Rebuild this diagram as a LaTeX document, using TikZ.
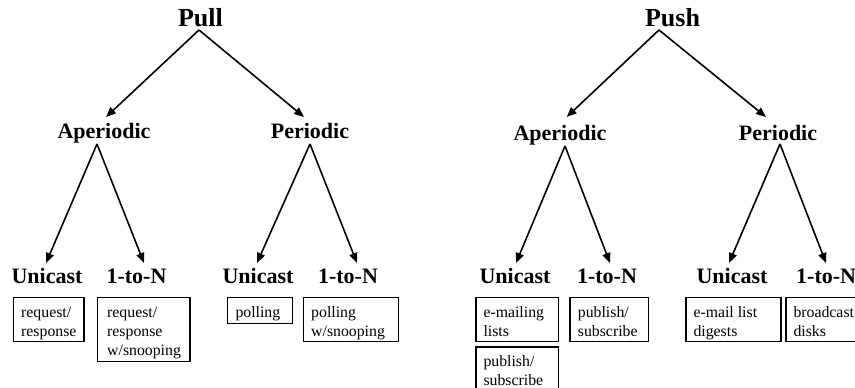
\documentclass[tikz,border=0pt]{standalone}
\usepackage{fontspec}
\setmainfont{Liberation Serif}
\usetikzlibrary{arrows.meta,calc}

\tikzset{
  x=1pt, y=1pt,
  top/.style={font=\fontsize{26}{30}\selectfont\bfseries, inner sep=0pt, anchor=base},
  mid/.style={font=\fontsize{22}{26}\selectfont\bfseries, inner sep=0pt, anchor=base},
  low/.style={font=\fontsize{22}{26}\selectfont\bfseries, inner sep=0pt, anchor=base},
  arr/.style={line width=1.6pt, -{Triangle[length=10pt,width=8pt]}},
  leafbox/.style={draw, line width=1.6pt, inner sep=0pt, anchor=north west},
  leaftext/.style={font=\fontsize{15.8}{19}\selectfont, inner sep=0pt, align=left, anchor=north west},
}

\begin{document}
\begin{tikzpicture}
\useasboundingbox (0,0) rectangle (855,-388);
\clip (0,0) rectangle (855,-388);

% ---------- Pull tree ----------
\node[top] (pull) at (200.5,-27) {Pull};
\node[mid] (apL) at (104,-138) {Aperiodic};
\node[mid] (perL) at (310,-138) {Periodic};
\node[low] (uL1) at (47,-283) {Unicast};
\node[low] (nL1) at (136.5,-283) {1-to-N};
\node[low] (uL2) at (258,-283) {Unicast};
\node[low] (nL2) at (348,-283) {1-to-N};

\draw[arr] ([shift={(-1.5,-3)}]pull.base) -- ([shift={(2,21)}]apL.base);
\draw[arr] ([shift={(-1.5,-3)}]pull.base) -- ([shift={(-6,21)}]perL.base);
\draw[arr] ([shift={(-7,-6)}]apL.base) -- ([shift={(-1,20)}]uL1.base);
\draw[arr] ([shift={(-7,-6)}]apL.base) -- ([shift={(7.5,20)}]nL1.base);
\draw[arr] ([shift={(0,-6)}]perL.base) -- ([shift={(-1,20)}]uL2.base);
\draw[arr] ([shift={(0,-6)}]perL.base) -- ([shift={(9,20)}]nL2.base);

% leaf boxes, Pull side
\node[leafbox, minimum width=70.6pt, minimum height=44pt] (b1) at (12.7,-296.7) {};
\node[leaftext] (t1) at (21,-306.7) {request/\\response};
\node[leafbox, minimum width=92.6pt, minimum height=64pt] (b2) at (96.7,-296.7) {};
\node[leaftext] (t2) at (107,-306.7) {request/\\response\\w/snooping};
\node[leafbox, minimum width=65pt, minimum height=26pt] (b3) at (226.7,-296.7) {};
\node[leaftext] (t3) at (235.3,-306.7) {polling};
\node[leafbox, minimum width=95pt, minimum height=44pt] (b4) at (302.7,-296.7) {};
\node[leaftext] (t4) at (311,-306.7) {polling\\w/snooping};

% ---------- Push tree ----------
\node[top] (push) at (672.5,-27) {Push};
\node[mid] (apR) at (560,-140) {Aperiodic};
\node[mid] (perR) at (778,-140) {Periodic};
\node[low] (uR1) at (515,-283) {Unicast};
\node[low] (nR1) at (607,-283) {1-to-N};
\node[low] (uR2) at (732,-283) {Unicast};
\node[low, anchor=base west] (nR2) at (796,-283) {1-to-N};

\draw[arr] ([shift={(-13.5,-3)}]push.base) -- ([shift={(6.7,23)}]apR.base);
\draw[arr] ([shift={(-13.5,-3)}]push.base) -- ([shift={(-12,23)}]perR.base);
\draw[arr] ([shift={(5,-6)}]apR.base) -- ([shift={(1,20)}]uR1.base);
\draw[arr] ([shift={(5,-6)}]apR.base) -- ([shift={(3,20)}]nR1.base);
\draw[arr] ([shift={(2,-4)}]perR.base) -- ([shift={(-3,20)}]uR2.base);
\draw[arr] ([shift={(2,-4)}]perR.base) -- ([shift={(30,20)}]nR2.base west);

% leaf boxes, Push side
\node[leafbox, minimum width=82.7pt, minimum height=44pt] (b5) at (475,-296.7) {};
\node[leaftext] (t5) at (483.3,-306.7) {e-mailing\\lists};
\node[leafbox, minimum width=82.7pt, minimum height=50pt] (b6) at (475,-346) {};
\node[leaftext] (t6) at (483.3,-355) {publish/\\subscribe};
\node[leafbox, minimum width=78.7pt, minimum height=44pt] (b7) at (569,-296.7) {};
\node[leaftext] (t7) at (577.7,-306.7) {publish/\\subscribe};
\node[leafbox, minimum width=95pt, minimum height=44pt] (b8) at (685,-296.7) {};
\node[leaftext] (t8) at (693.3,-306.7) {e-mail list\\digests};
\node[leafbox, minimum width=85pt, minimum height=44pt] (b9) at (785,-296.7) {};
\node[leaftext] (t9) at (793.3,-306.7) {broadcast\\disks};
\end{tikzpicture}
\end{document}
